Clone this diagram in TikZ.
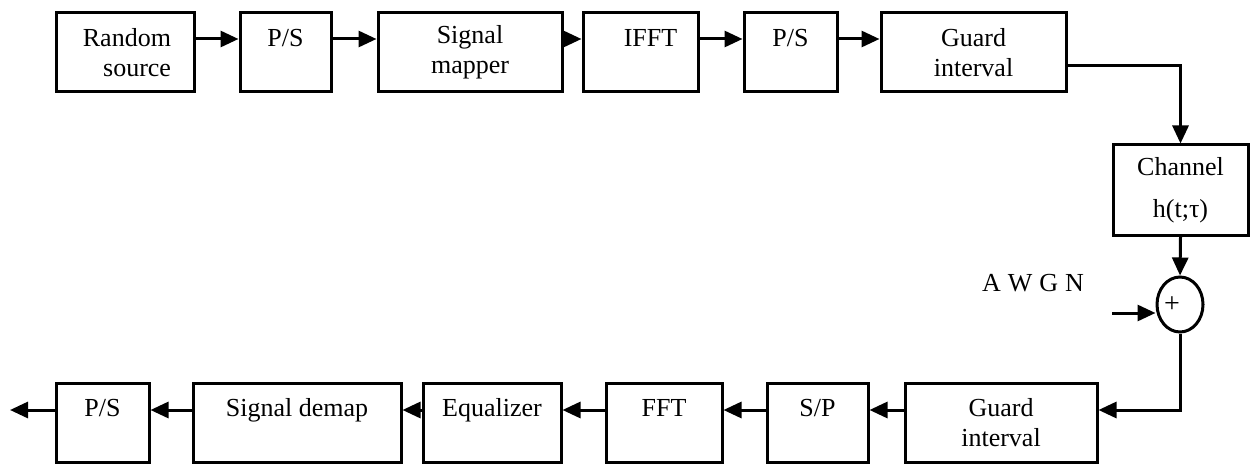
\documentclass[tikz,border=0pt]{standalone}
\usepackage{fontspec}
\setmainfont{Liberation Serif}
\usetikzlibrary{arrows.meta,shapes.geometric}
\begin{document}
\begin{tikzpicture}[x=1pt,y=-1pt,
  font=\fontsize{26}{30}\selectfont,
  blk/.style={draw,line width=3pt,rectangle,inner sep=0pt,align=center,minimum height=79pt},
  arr/.style={line width=3pt,-{Triangle[length=18pt,width=16pt]}}]
\useasboundingbox (0,0) rectangle (1252,465);
% top row
\node[blk,minimum width=138pt,text width=92pt,align=right] (rs) at (125,52.5) {Random\\source};
\node[blk,minimum width=91pt] (ps1) at (285.5,52.5) {P/S\\~};
\node[blk,minimum width=184pt] (sm) at (470,52.5) {Signal\\mapper};
\node[blk,minimum width=115pt] (ifft) at (640.5,52.5) {\hspace*{20pt}IFFT\\~};
\node[blk,minimum width=93pt] (ps2) at (790.5,52.5) {P/S\\~};
\node[blk,minimum width=185pt] (gi1) at (973.5,52.5) {Guard\\interval};
% channel
\node[blk,minimum width=135pt,minimum height=90pt] (ch) at (1180.5,190) {Channel\\[12pt]h(t;τ)};
% adder
\node[draw,ellipse,line width=3pt,minimum width=46pt,minimum height=55pt,inner sep=0pt] (sum) at (1180,304.5) {};
\node[font=\fontsize{28}{28}\selectfont,inner sep=0pt] (plus) at (1172,305) {+};
\node[inner sep=0pt] (awgn) at (1033,283) {A\kern7pt W\kern7pt G\kern7pt N};
\coordinate (awgnin) at (1112,313);
% bottom row
\node[blk,minimum width=192pt] (gi2) at (1001,422.5) {Guard\\interval};
\node[blk,minimum width=101pt] (sp) at (817.5,422.5) {S/P\\~};
\node[blk,minimum width=116pt] (fft) at (664,422.5) {FFT\\~};
\node[blk,minimum width=138pt] (eq) at (492,422.5) {Equalizer\\~};
\node[blk,minimum width=208pt] (sd) at (297,422.5) {Signal demap\\~};
\node[blk,minimum width=93pt] (ps3) at (102.5,422.5) {P/S\\~};
\coordinate (out) at (10,410);
% connectors
\draw[arr] (rs.east |- 0,39) -- (ps1.west |- 0,39);
\draw[arr] (ps1.east |- 0,39) -- (sm.west |- 0,39);
\draw[arr] (sm.east |- 0,39) -- (ifft.west |- 0,39);
\draw[arr] (ifft.east |- 0,39) -- (ps2.west |- 0,39);
\draw[arr] (ps2.east |- 0,39) -- (gi1.west |- 0,39);
\draw[arr] (gi1.east |- 0,66) -| (ch.north);
\draw[arr] (ch.south) -- (sum.north);
\draw[arr] (awgnin) -- (awgnin -| sum.west);
\draw[arr] (sum.south) |- (gi2.east |- 0,410);
\draw[arr] (gi2.west |- 0,410) -- (sp.east |- 0,410);
\draw[arr] (sp.west |- 0,410) -- (fft.east |- 0,410);
\draw[arr] (fft.west |- 0,410) -- (eq.east |- 0,410);
\draw[arr] (eq.west |- 0,410) -- (sd.east |- 0,410);
\draw[arr] (sd.west |- 0,410) -- (ps3.east |- 0,410);
\draw[arr] (ps3.west |- 0,410) -- (out);
\end{tikzpicture}
\end{document}
